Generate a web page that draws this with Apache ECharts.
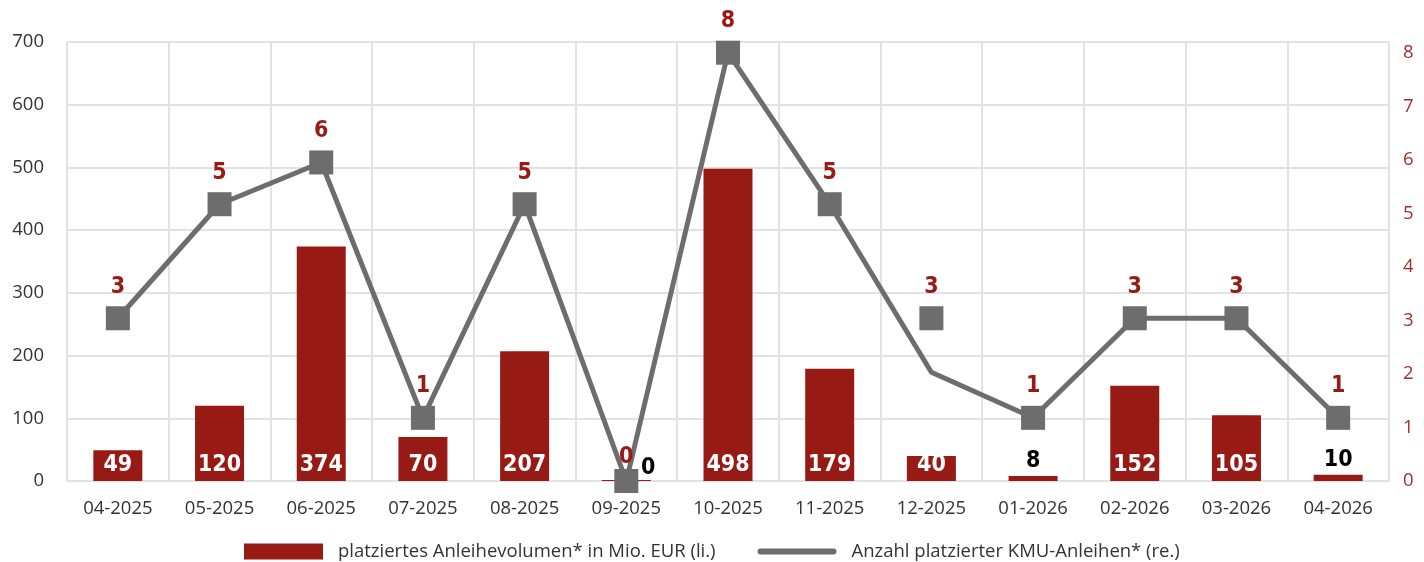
<!DOCTYPE html>
<html><head><meta charset="utf-8">
<script src="https://cdn.jsdelivr.net/npm/echarts@6/dist/echarts.min.js"></script>
<style>html,body{margin:0;padding:0;background:#fff}#c{width:1424px;height:562px}</style>
</head><body><div id="c"></div>
<script>
const categories = ['04-2025','05-2025','06-2025','07-2025','08-2025','09-2025','10-2025','11-2025','12-2025','01-2026','02-2026','03-2026','04-2026'];
const volume = [49,120,374,70,207,0,498,179,40,8,152,105,10];
// labelled counts
const countLabels = [3,5,6,1,5,0,8,5,3,1,3,3,1];
// positions of markers / line (right axis units)
const countMarkers = [3.04,5.17,5.95,1.18,5.17,0,8,5.17,3.04,1.18,3.04,3.04,1.18];
const countLine = [3.04,5.17,5.95,1.18,5.17,0,8,5.17,2.03,1.18,3.04,3.04,1.18];
const leftTicks = {min:0, max:700, interval:100};
const rightTicks = {min:0, max:8.2, interval:1};

const RED = '#981a15', GREY = '#6d6d6d';
const NARROW = "'Liberation Sans Narrow','DejaVu Sans Condensed',sans-serif";
const AX = "'Open Sans', sans-serif";
const AXSIZE = 18.5;

const barData = volume.map(v => {
  const small = v < 20;
  return {
    value: v,
    label: small ? {position:'top', color:'#000', distance: 3, offset: v===0 ? [22,3] : [0,0]} : {}
  };
});
const markerData = countMarkers.map((v, i) => ({
  value: v, lbl: countLabels[i],
  label: countLabels[i] === 0 ? {distance: 0} : {}
}));

const LINE_ICON = 'path://M3,5 L77,5 A3,3 0 0 1 77,11 L3,11 A3,3 0 0 1 3,5 Z M0,0 L0.01,0 L0.01,0.01 Z M80,16 L80.01,16 L80.01,16.01 Z';

const chart = echarts.init(document.getElementById('c'));
chart.setOption({
  animation:false,
  grid:{left:67, right:35, top:42, bottom:81, containLabel:false},
  legend:{
    top:542, left:244, padding:0, itemWidth:79, itemHeight:16, itemGap:42,
    textStyle:{fontFamily:AX, fontSize:AXSIZE, color:'#333', padding:[0,0,0,10]},
    data:[{name:'platziertes Anleihevolumen* in Mio. EUR (li.)', icon:'rect'},
          {name:'Anzahl platzierter KMU-Anleihen* (re.)', icon:LINE_ICON, itemStyle:{color:GREY}}]
  },
  xAxis:{
    type:'category', data:categories, boundaryGap:true,
    axisLine:{show:true, lineStyle:{color:'#e2e2e2', width:2}},
    axisTick:{show:false},
    axisLabel:{fontFamily:AX, fontSize:AXSIZE, color:'#333', margin:18},
    splitLine:{show:true, lineStyle:{color:'#e2e2e2', width:2}}
  },
  yAxis:[
    {type:'value', min:leftTicks.min, max:leftTicks.max, interval:leftTicks.interval,
     axisLine:{show:false}, axisTick:{show:false},
     axisLabel:{fontFamily:AX, fontSize:AXSIZE, color:'#333', margin:23},
     splitLine:{show:true, lineStyle:{color:'#e2e2e2', width:2}}},
    {type:'value', min:rightTicks.min, max:rightTicks.max, interval:rightTicks.interval,
     position:'right',
     axisLine:{show:true, lineStyle:{color:'#e2e2e2', width:2}}, axisTick:{show:false},
     axisLabel:{fontFamily:AX, fontSize:AXSIZE, color:'#a3302b', margin:14,
       formatter: v => Number.isInteger(v) ? String(v) : ''},
     splitLine:{show:false}}
  ],
  series:[
    {name:'platziertes Anleihevolumen* in Mio. EUR (li.)', type:'bar', yAxisIndex:0,
     data:barData, barWidth:49, barMinHeight:1,
     itemStyle:{color:RED},
     label:{show:true, position:'insideBottom', distance:4, color:'#fff',
       fontFamily:NARROW, fontWeight:'bold', fontSize:23},
     z:2},
    {name:'Anzahl platzierter KMU-Anleihen* (re.)', type:'line', yAxisIndex:1,
     data:countLine, showSymbol:false, symbol:'none',
     itemStyle:{color:GREY}, lineStyle:{color:GREY, width:5}, z:3},
    {name:'markers', type:'scatter', yAxisIndex:1, data:markerData,
     symbol:'rect', symbolSize:24, itemStyle:{color:GREY, opacity:1},
     label:{show:true, position:'top', distance:8, color:RED,
       fontFamily:NARROW, fontWeight:'bold', fontSize:23,
       formatter: p => String(p.data.lbl)},
     z:4}
  ]
});
</script></body></html>
